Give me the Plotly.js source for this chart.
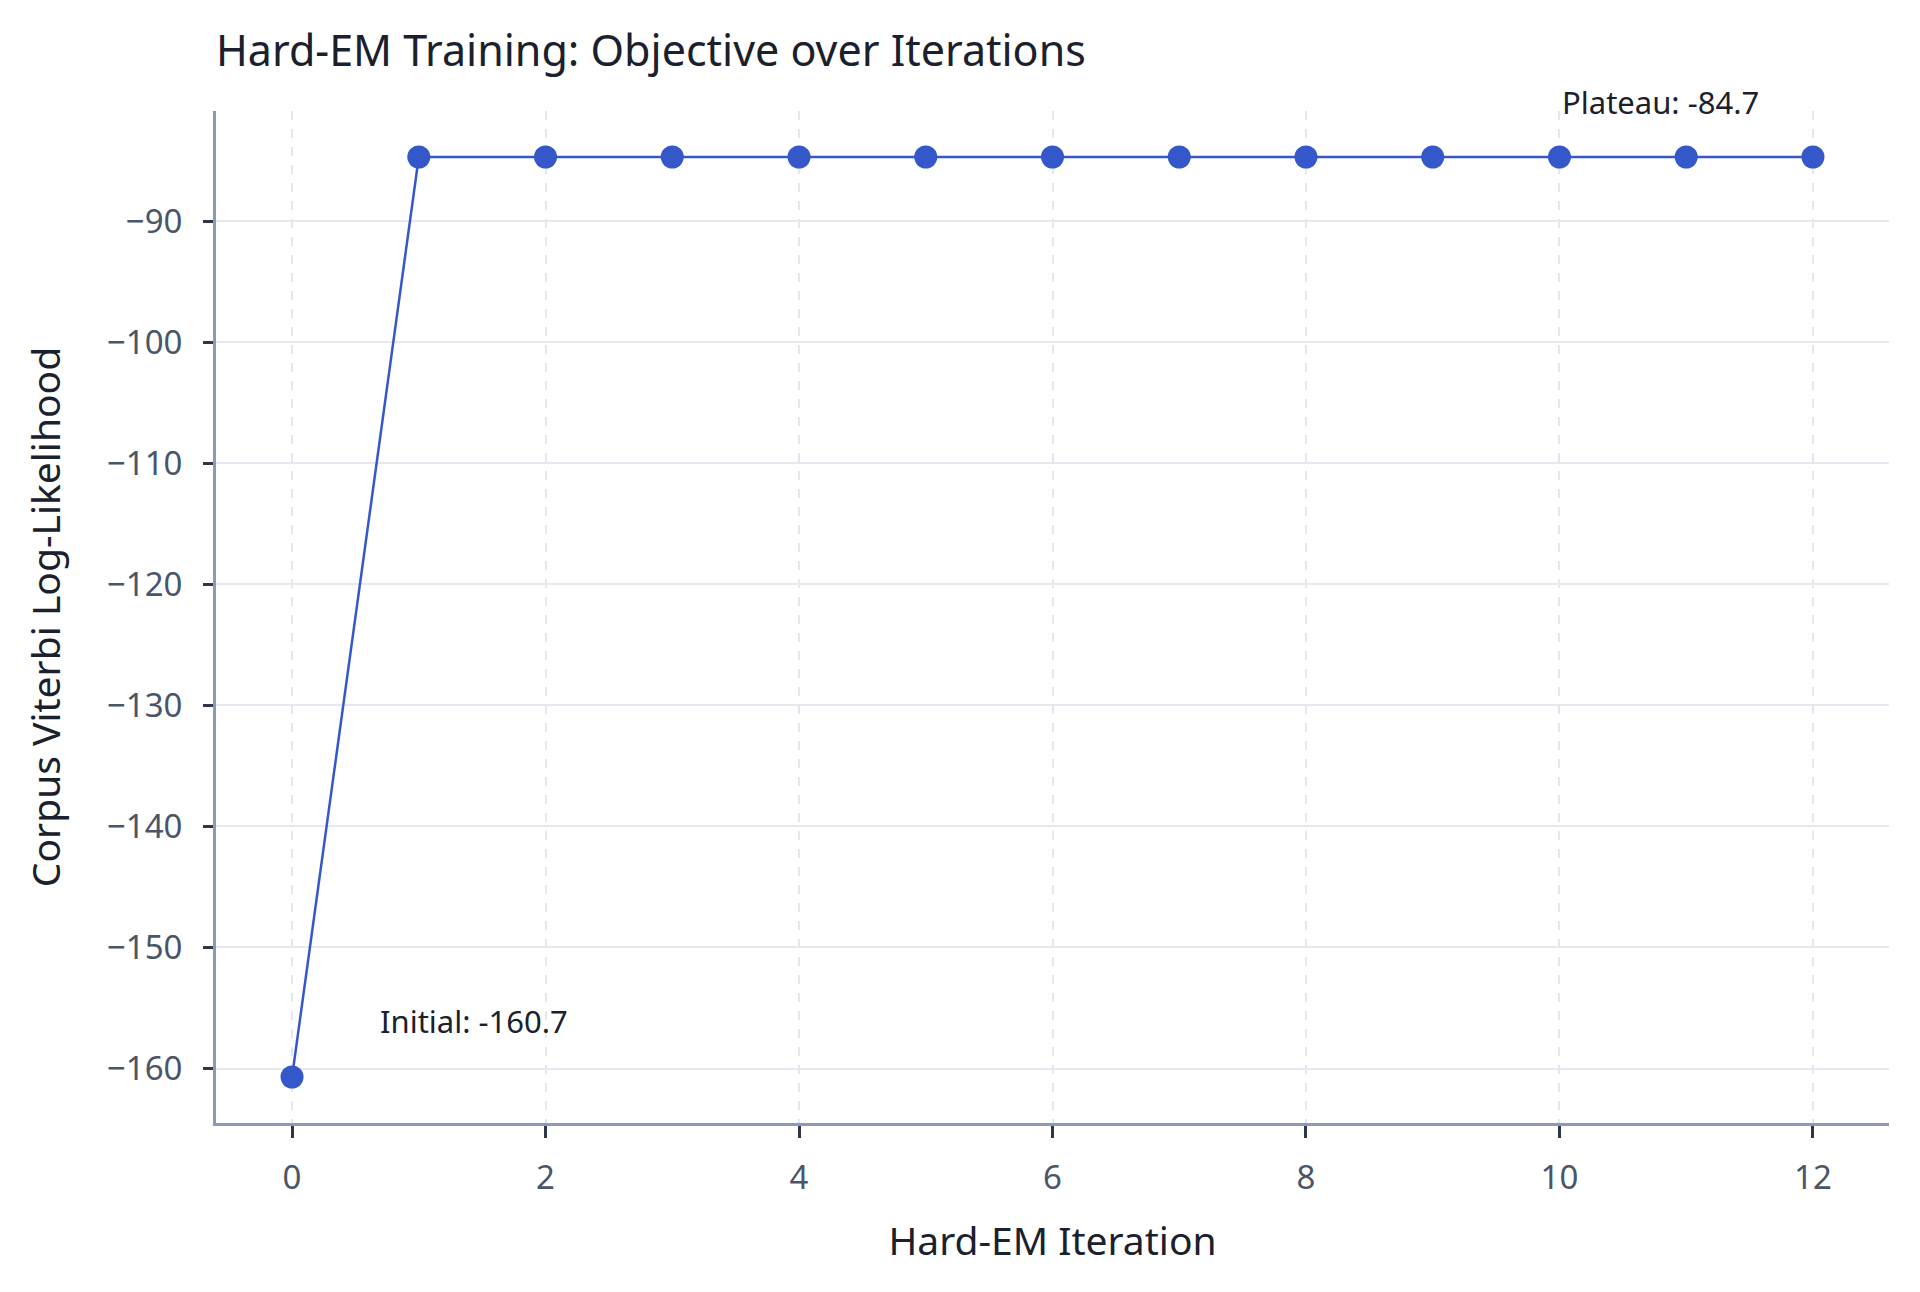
<!DOCTYPE html>
<html>
<head>
<meta charset="utf-8">
<script src="https://cdn.plot.ly/plotly-3.0.1.min.js"></script>
<style>
  html, body { margin: 0; padding: 0; background: #fff; }
  #graph { width: 1920px; height: 1292px; }
</style>
</head>
<body>
<div id="graph"></div>
<script>
const iterations = [0, 1, 2, 3, 4, 5, 6, 7, 8, 9, 10, 11, 12];
const logLik = [-160.7, -84.7, -84.7, -84.7, -84.7, -84.7, -84.7, -84.7, -84.7, -84.7, -84.7, -84.7, -84.7];
const yTicks = [-160, -150, -140, -130, -120, -110, -100, -90];
const xTicks = [0, 2, 4, 6, 8, 10, 12];

const FONT = '"Noto Sans", "Open Sans", sans-serif';
const LINE_COLOR = '#3457c9';

const last = iterations.length - 1;

const trace = {
  x: iterations,
  y: logLik,
  mode: 'lines+markers',
  line: { color: LINE_COLOR, width: 2.5 },
  marker: { color: LINE_COLOR, size: 23 },
  hoverinfo: 'x+y',
  showlegend: false
};

const layout = {
  width: 1920,
  height: 1292,
  paper_bgcolor: '#ffffff',
  plot_bgcolor: '#ffffff',
  font: { family: FONT, color: '#1a202c' },
  margin: { l: 216, r: 31, t: 111, b: 169, pad: 0 },
  title: {
    text: 'Hard-EM Training: Objective over Iterations',
    font: { size: 43, color: '#1a202c' },
    xref: 'paper', x: 0, xanchor: 'left',
    yref: 'container', y: 1 - 51 / 1292, yanchor: 'middle'
  },
  xaxis: {
    title: { text: 'Hard-EM Iteration', font: { size: 39, color: '#1a202c' }, standoff: 31 },
    range: [-0.6, 12.6],
    tickvals: xTicks,
    ticks: 'outside', ticklen: 12, tickwidth: 3, tickcolor: '#2d3748',
    ticklabelstandoff: 11,
    tickfont: { size: 33, color: '#4a5568' },
    showline: true, linecolor: '#8b9ab5', linewidth: 3,
    showgrid: true, gridcolor: '#e2e8f0', gridwidth: 2, griddash: 'dash',
    zeroline: false
  },
  yaxis: {
    title: { text: 'Corpus Viterbi Log-Likelihood', font: { size: 39, color: '#1a202c' }, standoff: 35 },
    range: [-164.5, -80.9],
    tickvals: yTicks,
    ticks: 'outside', ticklen: 10, tickwidth: 3, tickcolor: '#2d3748',
    ticklabelstandoff: 14,
    tickfont: { size: 33, color: '#4a5568' },
    showline: true, linecolor: '#8b9ab5', linewidth: 3,
    showgrid: true, gridcolor: '#e5e9ef', gridwidth: 2,
    zeroline: false
  },
  annotations: [
    {
      x: iterations[0], y: logLik[0], xref: 'x', yref: 'y',
      text: 'Initial: ' + logLik[0].toFixed(1),
      showarrow: false, xanchor: 'left', yanchor: 'middle',
      xshift: 86, yshift: 56,
      font: { size: 31, color: '#1a202c' }
    },
    {
      x: iterations[last], y: logLik[last], xref: 'x', yref: 'y',
      text: 'Plateau: ' + logLik[last].toFixed(1),
      showarrow: false, xanchor: 'right', yanchor: 'middle',
      xshift: -52, yshift: 55,
      font: { size: 31, color: '#1a202c' }
    }
  ]
};

Plotly.newPlot('graph', [trace], layout, { displayModeBar: false, responsive: false });
</script>
</body>
</html>
